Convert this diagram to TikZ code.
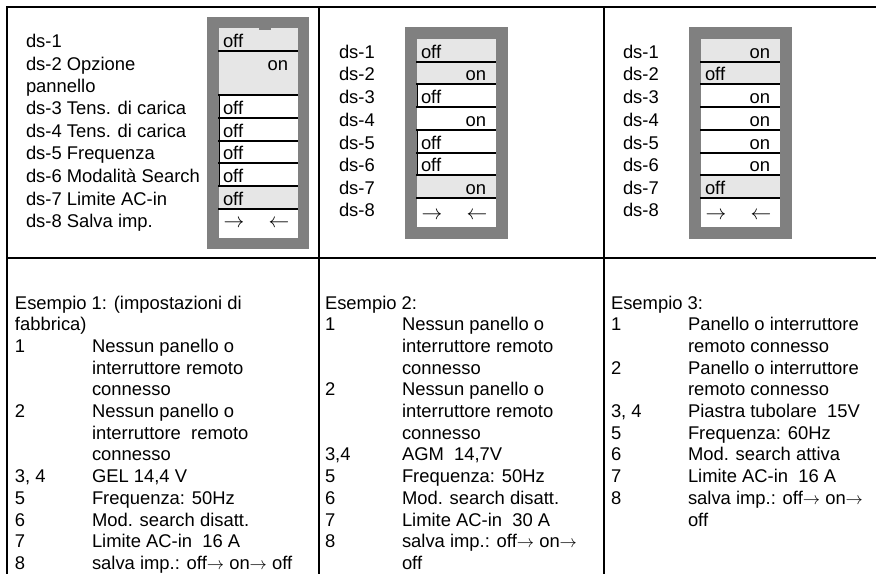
\documentclass[tikz,border=0pt]{standalone}
\usepackage{fontspec}
\setmainfont{Liberation Sans}
\definecolor{framegray}{HTML}{808080}
\definecolor{cellgray}{HTML}{E6E6E6}
\newcommand\rarr{\(\rightarrow\)}
% row macros: name, left, right, top, bottom, fill colour, baseline
\newcommand\rowoff[7]{%
  \fill[#6] (#2,#4) rectangle (#3,#5);
  \node[anchor=base west] (#1) at ({#2+4},#7) {off};}
\newcommand\rowon[7]{%
  \fill[#6] (#2,#4) rectangle (#3,#5);
  \node[anchor=base east] (#1) at ({#3-10},#7) {on};}
\newcommand\rowarrows[6]{% name, left, right, top, bottom, ymid
  \fill[white] (#2,#4) rectangle (#3,#5);
  \node[font=\fontsize{20.74}{24}\selectfont] (#1a) at ({#2+15},#6) {\(\rightarrow\)};
  \node[font=\fontsize{20.74}{24}\selectfont] (#1b) at ({#3-19},#6) {\(\leftarrow\)};}
\begin{document}
\begin{tikzpicture}[x=1pt,y=-1pt,
  every node/.style={inner sep=0pt,outer sep=0pt,font=\fontsize{18.4}{22}\selectfont},
  tbl/.style={line width=2pt},
  sep/.style={line width=1.6pt},
  edge/.style={line width=1pt},
  lbl/.style={anchor=base west}]
\useasboundingbox (0,0) rectangle (876,574);
% ---------------- table grid
\draw[tbl] (876,7) -- (7,7) -- (7,574);
\draw[tbl] (7,258) -- (876,258);
\draw[tbl] (319,7) -- (319,574);
\draw[tbl] (604,7) -- (604,574);

% ---------------- switch block 1
\fill[framegray] (207,17) rectangle (309,249);
\rowoff{b1r1}{219}{298}{28}{51}{cellgray}{47}
\rowon{b1r2}{219}{298}{51}{95}{cellgray}{70}
\rowoff{b1r3}{219}{298}{95}{118}{white}{114}
\rowoff{b1r4}{219}{298}{118}{141}{white}{137}
\rowoff{b1r5}{219}{298}{141}{163}{white}{159}
\rowoff{b1r6}{219}{298}{163}{186}{white}{182}
\rowoff{b1r7}{219}{298}{186}{209}{cellgray}{205}
\rowarrows{b1r8}{219}{298}{209}{238}{224}
\fill[framegray] (259,27) rectangle (271,30);
\foreach \y in {51,95,118,141,163,186,209} \draw[sep] (218,\y) -- (298,\y);
\draw[edge] (219.5,95) -- (219.5,186);

\node[lbl] (l11) at (26,47) {ds-1};
\node[lbl] (l12) at (26,70) {ds-2 Opzione};
\node[lbl] (l12b) at (26,92) {pannello};
\node[lbl] (l13) at (26,114) {ds-3 Tens. di carica};
\node[lbl] (l14) at (26,137) {ds-4 Tens. di carica};
\node[lbl] (l15) at (26,159) {ds-5 Frequenza};
\node[lbl] (l16) at (26,182) {ds-6 Modalità Search};
\node[lbl] (l17) at (26,205) {ds-7 Limite AC-in};
\node[lbl] (l18) at (26,227) {ds-8 Salva imp.};

% ---------------- switch block 2
\fill[framegray] (405,27) rectangle (508,239);
\rowoff{b2r1}{417}{496}{39}{62}{cellgray}{58}
\rowon{b2r2}{417}{496}{62}{84}{cellgray}{80}
\rowoff{b2r3}{417}{496}{84}{107}{white}{103}
\rowon{b2r4}{417}{496}{107}{130}{white}{126}
\rowoff{b2r5}{417}{496}{130}{153}{white}{149}
\rowoff{b2r6}{417}{496}{153}{175}{white}{171}
\rowon{b2r7}{417}{496}{175}{198}{cellgray}{194}
\rowarrows{b2r8}{417}{496}{198}{227}{215.5}
\foreach \y in {62,84,107,130,153,175,198} \draw[sep] (416,\y) -- (496,\y);
\draw[edge] (417.5,84) -- (417.5,107);
\draw[edge] (417.5,130) -- (417.5,175);

\node[lbl] (l21) at (339,58) {ds-1};
\node[lbl] (l22) at (339,80) {ds-2};
\node[lbl] (l23) at (339,103) {ds-3};
\node[lbl] (l24) at (339,126) {ds-4};
\node[lbl] (l25) at (339,149) {ds-5};
\node[lbl] (l26) at (339,171) {ds-6};
\node[lbl] (l27) at (339,194) {ds-7};
\node[lbl] (l28) at (339,216) {ds-8};

% ---------------- switch block 3
\fill[framegray] (689,27) rectangle (792,239);
\rowon{b3r1}{701}{780}{39}{62}{cellgray}{58}
\rowoff{b3r2}{701}{780}{62}{84}{cellgray}{80}
\rowon{b3r3}{701}{780}{84}{107}{white}{103}
\rowon{b3r4}{701}{780}{107}{130}{white}{126}
\rowon{b3r5}{701}{780}{130}{153}{white}{149}
\rowon{b3r6}{701}{780}{153}{175}{white}{171}
\rowoff{b3r7}{701}{780}{175}{198}{cellgray}{194}
\rowarrows{b3r8}{701}{780}{198}{227}{215.5}
\foreach \y in {62,84,107,130,153,175,198} \draw[sep] (700,\y) -- (780,\y);

\node[lbl] (l31) at (623,58) {ds-1};
\node[lbl] (l32) at (623,80) {ds-2};
\node[lbl] (l33) at (623,103) {ds-3};
\node[lbl] (l34) at (623,126) {ds-4};
\node[lbl] (l35) at (623,149) {ds-5};
\node[lbl] (l36) at (623,171) {ds-6};
\node[lbl] (l37) at (623,194) {ds-7};
\node[lbl] (l38) at (623,216) {ds-8};

% ---------------- example 1
\node[lbl] (e1h) at (15,309) {Esempio 1: (impostazioni di};
\node[lbl] (e1h2) at (15,330.7) {fabbrica)};
\node[lbl] (e1n1) at (15,352.4) {1};
\node[lbl] (e1t1a) at (92,352.4) {Nessun panello o};
\node[lbl] (e1t1b) at (92,374.1) {interruttore remoto};
\node[lbl] (e1t1c) at (92,395.8) {connesso};
\node[lbl] (e1n2) at (15,417.5) {2};
\node[lbl] (e1t2a) at (92,417.5) {Nessun panello o};
\node[lbl] (e1t2b) at (92,439.2) {interruttore\ \ remoto};
\node[lbl] (e1t2c) at (92,460.9) {connesso};
\node[lbl] (e1n3) at (15,482.6) {3, 4};
\node[lbl] (e1t3) at (92,482.6) {GEL 14,4 V};
\node[lbl] (e1n5) at (15,504.3) {5};
\node[lbl] (e1t5) at (92,504.3) {Frequenza: 50Hz};
\node[lbl] (e1n6) at (15,526) {6};
\node[lbl] (e1t6) at (92,526) {Mod. search disatt.};
\node[lbl] (e1n7) at (15,547.7) {7};
\node[lbl] (e1t7) at (92,547.7) {Limite AC-in\ \ 16 A};
\node[lbl] (e1n8) at (15,569.4) {8};
\node[lbl] (e1t8) at (92,569.4) {salva imp.: off\rarr{} on\rarr{} off};

% ---------------- example 2
\node[lbl] (e2h) at (325,309) {Esempio 2:};
\node[lbl] (e2n1) at (325,330.7) {1};
\node[lbl] (e2t1a) at (402,330.7) {Nessun panello o};
\node[lbl] (e2t1b) at (402,352.4) {interruttore remoto};
\node[lbl] (e2t1c) at (402,374.1) {connesso};
\node[lbl] (e2n2) at (325,395.8) {2};
\node[lbl] (e2t2a) at (402,395.8) {Nessun panello o};
\node[lbl] (e2t2b) at (402,417.5) {interruttore remoto};
\node[lbl] (e2t2c) at (402,439.2) {connesso};
\node[lbl] (e2n3) at (325,460.9) {3,4};
\node[lbl] (e2t3) at (402,460.9) {AGM\ \ 14,7V};
\node[lbl] (e2n5) at (325,482.6) {5};
\node[lbl] (e2t5) at (402,482.6) {Frequenza: 50Hz};
\node[lbl] (e2n6) at (325,504.3) {6};
\node[lbl] (e2t6) at (402,504.3) {Mod. search disatt.};
\node[lbl] (e2n7) at (325,526) {7};
\node[lbl] (e2t7) at (402,526) {Limite AC-in\ \ 30 A};
\node[lbl] (e2n8) at (325,547.7) {8};
\node[lbl] (e2t8a) at (402,547.7) {salva imp.: off\rarr{} on\rarr};
\node[lbl] (e2t8b) at (402,569.4) {off};

% ---------------- example 3
\node[lbl] (e3h) at (611,309) {Esempio 3:};
\node[lbl] (e3n1) at (611,330.7) {1};
\node[lbl] (e3t1a) at (688,330.7) {Panello o interruttore};
\node[lbl] (e3t1b) at (688,352.4) {remoto connesso};
\node[lbl] (e3n2) at (611,374.1) {2};
\node[lbl] (e3t2a) at (688,374.1) {Panello o interruttore};
\node[lbl] (e3t2b) at (688,395.8) {remoto connesso};
\node[lbl] (e3n3) at (611,417.5) {3, 4};
\node[lbl] (e3t3) at (688,417.5) {Piastra tubolare\ \ 15V};
\node[lbl] (e3n5) at (611,439.2) {5};
\node[lbl] (e3t5) at (688,439.2) {Frequenza: 60Hz};
\node[lbl] (e3n6) at (611,460.9) {6};
\node[lbl] (e3t6) at (688,460.9) {Mod. search attiva};
\node[lbl] (e3n7) at (611,482.6) {7};
\node[lbl] (e3t7) at (688,482.6) {Limite AC-in\ \ 16 A};
\node[lbl] (e3n8) at (611,504.3) {8};
\node[lbl] (e3t8a) at (688,504.3) {salva imp.: off\rarr{} on\rarr};
\node[lbl] (e3t8b) at (688,526) {off};
\end{tikzpicture}
\end{document}
